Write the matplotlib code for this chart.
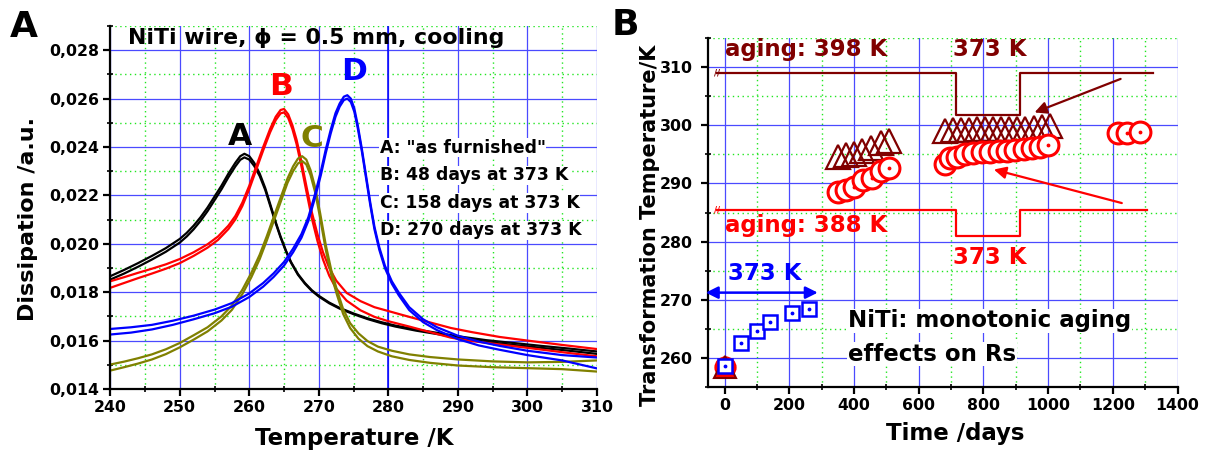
import matplotlib
matplotlib.use('Agg')
import matplotlib.pyplot as plt
from matplotlib.ticker import MultipleLocator, FuncFormatter

plt.rcParams['font.family'] = ['DejaVu Sans']
plt.rcParams['font.weight'] = 'bold'

DARKRED = '#800000'
OLIVE = '#808000'

# ---- panel A: dissipation vs temperature (two runs per sample) ----
temp_a = [240, 242, 244, 246, 248, 250, 251, 252, 253, 254, 255, 256, 257, 258, 258.7, 259.3, 260,
          260.7, 261.5, 262.3, 263, 263.8, 264.5, 265.3, 266, 267, 268, 269, 270, 271.5, 273, 275,
          277, 279, 281, 284, 287, 290, 294, 298, 302, 306, 310]
diss_a1 = [0.01866, 0.01892, 0.0192, 0.0195, 0.01982, 0.0202, 0.02045, 0.02075, 0.0211, 0.0215,
           0.02195, 0.0224, 0.0229, 0.02335, 0.02362, 0.02372, 0.02362, 0.02335, 0.0229, 0.0223,
           0.02165, 0.0209, 0.0203, 0.0197, 0.01925, 0.01875, 0.01838, 0.01808, 0.01785, 0.01757,
           0.01735, 0.01712, 0.01692, 0.01676, 0.01662, 0.01646, 0.01632, 0.01618, 0.01602, 0.0159,
           0.01578, 0.01567, 0.01555]
diss_a2 = [0.01852, 0.01877, 0.01905, 0.01935, 0.01967, 0.02005, 0.0203, 0.0206, 0.02095, 0.02135,
           0.0218, 0.02225, 0.02275, 0.0232, 0.02347, 0.02357, 0.02348, 0.02322, 0.0228, 0.02222,
           0.02158, 0.02085, 0.02026, 0.01967, 0.01922, 0.01872, 0.01835, 0.01805, 0.01782, 0.01754,
           0.01732, 0.01709, 0.01689, 0.01672, 0.01658, 0.01641, 0.01627, 0.01612, 0.01595, 0.01582,
           0.0157, 0.01558, 0.01545]

temp_b = [240, 242, 244, 246, 248, 250, 252, 254, 255.5, 257, 258, 259, 260, 261, 262, 263, 263.8,
          264.5, 265, 265.6, 266.2, 266.8, 267.5, 268.2, 269, 269.8, 270.6, 271.5, 272.5, 274, 276,
          278, 280, 283, 286, 289, 292, 296, 300, 305, 310]
diss_b1 = [0.01845, 0.01862, 0.0188, 0.01897, 0.01915, 0.01937, 0.01965, 0.01998, 0.0203, 0.02075,
           0.02115, 0.0217, 0.0224, 0.0232, 0.024, 0.02475, 0.02525, 0.02553, 0.02557, 0.02535,
           0.0249, 0.0243, 0.0234, 0.0224, 0.0213, 0.0204, 0.01965, 0.019, 0.01848, 0.01797,
           0.01763, 0.01738, 0.01722, 0.01698, 0.01675, 0.01652, 0.01635, 0.01615, 0.016, 0.01582,
           0.01565]
diss_b2 = [0.01818, 0.01838, 0.01858, 0.01877, 0.01897, 0.0192, 0.0195, 0.01984, 0.02016, 0.02061,
           0.02101, 0.02156, 0.02226, 0.02306, 0.02386, 0.02461, 0.02511, 0.02539, 0.02543, 0.0252,
           0.02474, 0.02412, 0.0232, 0.02218, 0.02105, 0.02012, 0.01935, 0.01868, 0.01815, 0.01765,
           0.01725, 0.01698, 0.0168, 0.01658, 0.01635, 0.01612, 0.01598, 0.01584, 0.0157, 0.01552,
           0.01535]

temp_c = [240, 242, 244, 246, 248, 250, 252, 254, 256, 257.5, 259, 260.3, 261.5, 262.5, 263.5, 264.5,
          265.5, 266.3, 267, 267.6, 268.2, 268.8, 269.5, 270.2, 271, 271.8, 272.6, 273.5, 274.5, 275.7,
          277, 278.5, 280.5, 283, 286, 290, 295, 300, 305, 310]
diss_c1 = [0.01501, 0.01513, 0.01527, 0.01543, 0.01564, 0.0159, 0.01622, 0.01655, 0.017, 0.01745,
           0.0181, 0.0188, 0.01955, 0.0203, 0.0211, 0.0219, 0.0227, 0.0232, 0.02352, 0.02362,
           0.02348, 0.02305, 0.0223, 0.02125, 0.01995, 0.0189, 0.0181, 0.0173, 0.01672, 0.0163,
           0.01598, 0.01575, 0.01558, 0.01543, 0.01532, 0.01522, 0.01514, 0.0151, 0.01512, 0.01518]
diss_c2 = [0.01476, 0.0149, 0.01505, 0.01522, 0.01544, 0.01572, 0.01604, 0.01638, 0.01683, 0.01727,
           0.01792, 0.01862, 0.01937, 0.02012, 0.02092, 0.02172, 0.02252, 0.023, 0.02332, 0.02342,
           0.02328, 0.02285, 0.0221, 0.02105, 0.01975, 0.0187, 0.0179, 0.0171, 0.01652, 0.01608,
           0.01577, 0.01555, 0.01535, 0.0152, 0.01508, 0.01497, 0.0149, 0.01486, 0.01482, 0.01472]

temp_d = [240, 243, 246, 249, 252, 255, 257.5, 260, 262, 263.5, 265, 266.3, 267.5, 268.5, 269.5,
          270.3, 271, 271.7, 272.4, 273, 273.6, 274.1, 274.6, 275.1, 275.6, 276.2, 276.8, 277.4, 278,
          278.7, 279.5, 280.5, 281.5, 283, 285, 287, 290, 293, 296, 300, 305, 310]
diss_d1 = [0.01648, 0.01655, 0.01665, 0.01682, 0.01703, 0.01728, 0.01755, 0.01795, 0.01838, 0.01878,
           0.01925, 0.0198, 0.0204, 0.0211, 0.0221, 0.023, 0.0239, 0.0247, 0.0254, 0.0258, 0.02608,
           0.02614, 0.026, 0.0256, 0.0249, 0.0239, 0.0228, 0.0217, 0.0207, 0.01985, 0.0191, 0.01845,
           0.01798, 0.01738, 0.01688, 0.01655, 0.0162, 0.01596, 0.01578, 0.01558, 0.0154, 0.0153]
diss_d2 = [0.01625, 0.01633, 0.01646, 0.01665, 0.01688, 0.01713, 0.0174, 0.0178, 0.01823, 0.01863,
           0.0191, 0.01965, 0.02025, 0.02095, 0.02195, 0.02285, 0.02375, 0.02455, 0.02525, 0.02567,
           0.02594, 0.026, 0.02586, 0.02546, 0.02478, 0.0238, 0.0227, 0.0216, 0.0206, 0.01975, 0.019,
           0.01835, 0.01787, 0.01726, 0.01676, 0.01643, 0.01606, 0.0158, 0.01562, 0.0154, 0.01518,
           0.01485]

legend_lines = ['A: "as furnished"', 'B: 48 days at 373 K', 'C: 158 days at 373 K', 'D: 270 days at 373 K']

# ---- panel B: transformation temperatures vs aging time ----
start_day = [0]
start_temp = [258.5]
circ_day = [352, 375, 400, 428, 455, 482, 507, 682, 698, 718, 744, 769, 795, 821, 847, 873, 898,
            924, 950, 975, 1001, 1217, 1243, 1284]
circ_temp = [288.5, 288.8, 289.4, 290.5, 291.0, 292.1, 292.6, 293.4, 294.3, 294.6, 295.0, 295.2,
             295.3, 295.4, 295.5, 295.6, 295.8, 295.9, 296.1, 296.3, 296.6, 298.6, 298.7, 298.85]
tri_day = [350, 375, 400, 425, 452, 482, 508, 680, 705, 730, 755, 780, 805, 830, 855, 880, 905,
           930, 955, 980, 1005]
tri_temp = [294.6, 294.8, 295.1, 295.6, 296.0, 296.9, 297.3, 299.0, 299.1, 299.2, 299.2, 299.3,
            299.3, 299.3, 299.3, 299.4, 299.4, 299.4, 299.5, 299.6, 299.8]
sq_day = [0, 51, 101, 140, 209, 260]
sq_temp = [258.6, 262.6, 264.7, 266.2, 267.8, 268.5]

# aging temperature schedules (schematic levels)
step398_day = [-24, 714, 714, 913, 913, 1325]
step398_lvl = [308.9, 308.9, 301.8, 301.8, 308.9, 308.9]
step388_day = [-24, 714, 714, 913, 913, 1307]
step388_lvl = [285.5, 285.5, 281.0, 281.0, 285.5, 285.5]


def style_axes(ax, xmaj, xmin, ymaj, ymin):
    ax.xaxis.set_major_locator(MultipleLocator(xmaj))
    ax.xaxis.set_minor_locator(MultipleLocator(xmin))
    ax.yaxis.set_major_locator(MultipleLocator(ymaj))
    ax.yaxis.set_minor_locator(MultipleLocator(ymin))
    ax.set_axisbelow(True)
    ax.grid(which='major', color='#4a4aff', lw=0.9)
    ax.grid(which='minor', color='#22e622', lw=1.0, linestyle=(0, (1, 2.5)))
    for s in ('top', 'right'):
        ax.spines[s].set_visible(False)
    for s in ('left', 'bottom'):
        ax.spines[s].set_linewidth(1.6)
    ax.tick_params(which='major', direction='out', length=5, width=1.6, labelsize=11.3, pad=3)
    ax.tick_params(which='minor', direction='inout', length=5, width=1.2)


fig = plt.figure(figsize=(12.07, 4.5), dpi=100)

# ---------------- A ----------------
axA = fig.add_axes([0.0913, 0.1356, 0.4033, 0.8066])
axA.set_xlim(240, 310)
axA.set_ylim(0.014, 0.029)
style_axes(axA, 10, 5, 0.002, 0.001)
axA.yaxis.set_major_formatter(FuncFormatter(lambda v, p: f'{v:.3f}'.replace('.', ',')))
axA.axvline(280, color='#0000ff', lw=1.1, zorder=0.9)

for t, y1, y2, c in [(temp_a, diss_a1, diss_a2, 'black'), (temp_b, diss_b1, diss_b2, 'red'),
                     (temp_c, diss_c1, diss_c2, OLIVE), (temp_d, diss_d1, diss_d2, 'blue')]:
    axA.plot(t, y1, color=c, lw=1.6, solid_joinstyle='round')
    axA.plot(t, y2, color=c, lw=1.6, solid_joinstyle='round')

axA.text(258.7, 0.02445, 'A', color='black', fontsize=22.5, ha='center', va='center')
axA.text(264.5, 0.0265, 'B', color='red', fontsize=22.5, ha='center', va='center')
axA.text(269.0, 0.02435, 'C', color=OLIVE, fontsize=22.5, ha='center', va='center')
axA.text(275.0, 0.0271, 'D', color='blue', fontsize=22.5, ha='center', va='center')
axA.text(242.6, 0.0285, 'NiTi wire, ϕ = 0.5 mm, cooling', fontsize=15.8, ha='left', va='center')

for i, line in enumerate(legend_lines):
    axA.text(278.75, 0.02397 - i * 0.00114, line, fontsize=12.4, ha='left', va='center',
             bbox=dict(facecolor='white', edgecolor='none', pad=0.5))

fig.text(28 / 1207, 1 - 219 / 450, 'Dissipation /a.u.', rotation=90, fontsize=16,
         ha='center', va='center')
fig.text(354.5 / 1207, 1 - 445 / 450, 'Temperature /K', fontsize=16.5, ha='center', va='baseline')
fig.text(24 / 1207, 1 - 27 / 450, 'A', fontsize=26, ha='center', va='center')

# ---------------- B ----------------
axB = fig.add_axes([0.5869, 0.1393, 0.3887, 0.7769])
axB.set_xlim(-50, 1400)
axB.set_ylim(255, 315)
style_axes(axB, 200, 100, 10, 5)
axB.tick_params(axis='y', which='major', pad=6)

axB.plot(step398_day, step398_lvl, color=DARKRED, lw=1.6)
axB.plot(step388_day, step388_lvl, color='red', lw=1.6)
axB.text(-22, step398_lvl[0], '//', color=DARKRED, fontsize=6, ha='center', va='center')
axB.text(-22, step388_lvl[0], '//', color='red', fontsize=6, ha='center', va='center')

# day-0 reference sample
axB.plot(start_day, start_temp, 'o', ms=14, mfc='red', mec='red', mew=2, zorder=4)
axB.plot(start_day, start_temp, '^', ms=16, mfc='red', mec=DARKRED, mew=1.5, zorder=4)

axB.plot(tri_day, tri_temp, '^', ms=17, mfc='none', mec=DARKRED, mew=1.6, zorder=4)
for i, (d, t) in enumerate(zip(circ_day, circ_temp)):
    z = 5 + i * 0.01
    axB.plot(d, t, 'o', ms=15, mfc='white', mec='red', mew=2.2, zorder=z)
    axB.plot(d, t, '.', ms=3.5, color='red', zorder=z + 0.005)
for i, (d, t) in enumerate(zip(sq_day, sq_temp)):
    z = 6 + i * 0.01
    axB.plot(d, t, 's', ms=9.5, mfc='white', mec='blue', mew=1.8, zorder=z)
    axB.plot(d, t, '.', ms=3.5, color='blue', zorder=z + 0.005)

axB.annotate('', xy=(950, 302.0), xytext=(1232, 308.1),
             arrowprops=dict(arrowstyle='-|>', color=DARKRED, lw=1.6, mutation_scale=18))
axB.annotate('', xy=(824, 292.5), xytext=(1236, 286.5),
             arrowprops=dict(arrowstyle='-|>', color='red', lw=1.6, mutation_scale=18))
axB.annotate('', xy=(-58, 271.25), xytext=(288, 271.25), annotation_clip=False,
             arrowprops=dict(arrowstyle='<|-|>', color='blue', lw=1.8, mutation_scale=18,
                             shrinkA=0, shrinkB=0))

axB.text(0, 312.9, 'aging: 398 K', color=DARKRED, fontsize=16.5, ha='left', va='center')
axB.text(821, 312.9, '373 K', color=DARKRED, fontsize=16.5, ha='center', va='center')
axB.text(0, 282.85, 'aging: 388 K', color='red', fontsize=16.5, ha='left', va='center')
axB.text(821, 277.3, '373 K', color='red', fontsize=16.5, ha='center', va='center')
axB.text(123, 274.5, '373 K', color='blue', fontsize=16.5, ha='center', va='center')
axB.text(382, 266.4, 'NiTi: monotonic aging', fontsize=16.5, ha='left', va='center',
         bbox=dict(facecolor='white', edgecolor='none', pad=0.5))
axB.text(382, 260.7, 'effects on Rs', fontsize=16.5, ha='left', va='center',
         bbox=dict(facecolor='white', edgecolor='none', pad=0.5))

fig.text(650 / 1207, 1 - 225 / 450, 'Transformation Temperature/K', rotation=90, fontsize=15,
         ha='center', va='center')
fig.text(955 / 1207, 1 - 440 / 450, 'Time /days', fontsize=16.5, ha='center', va='baseline')
fig.text(625 / 1207, 1 - 25 / 450, 'B', fontsize=26, ha='center', va='center')

fig.savefig('out.png', dpi=100)
